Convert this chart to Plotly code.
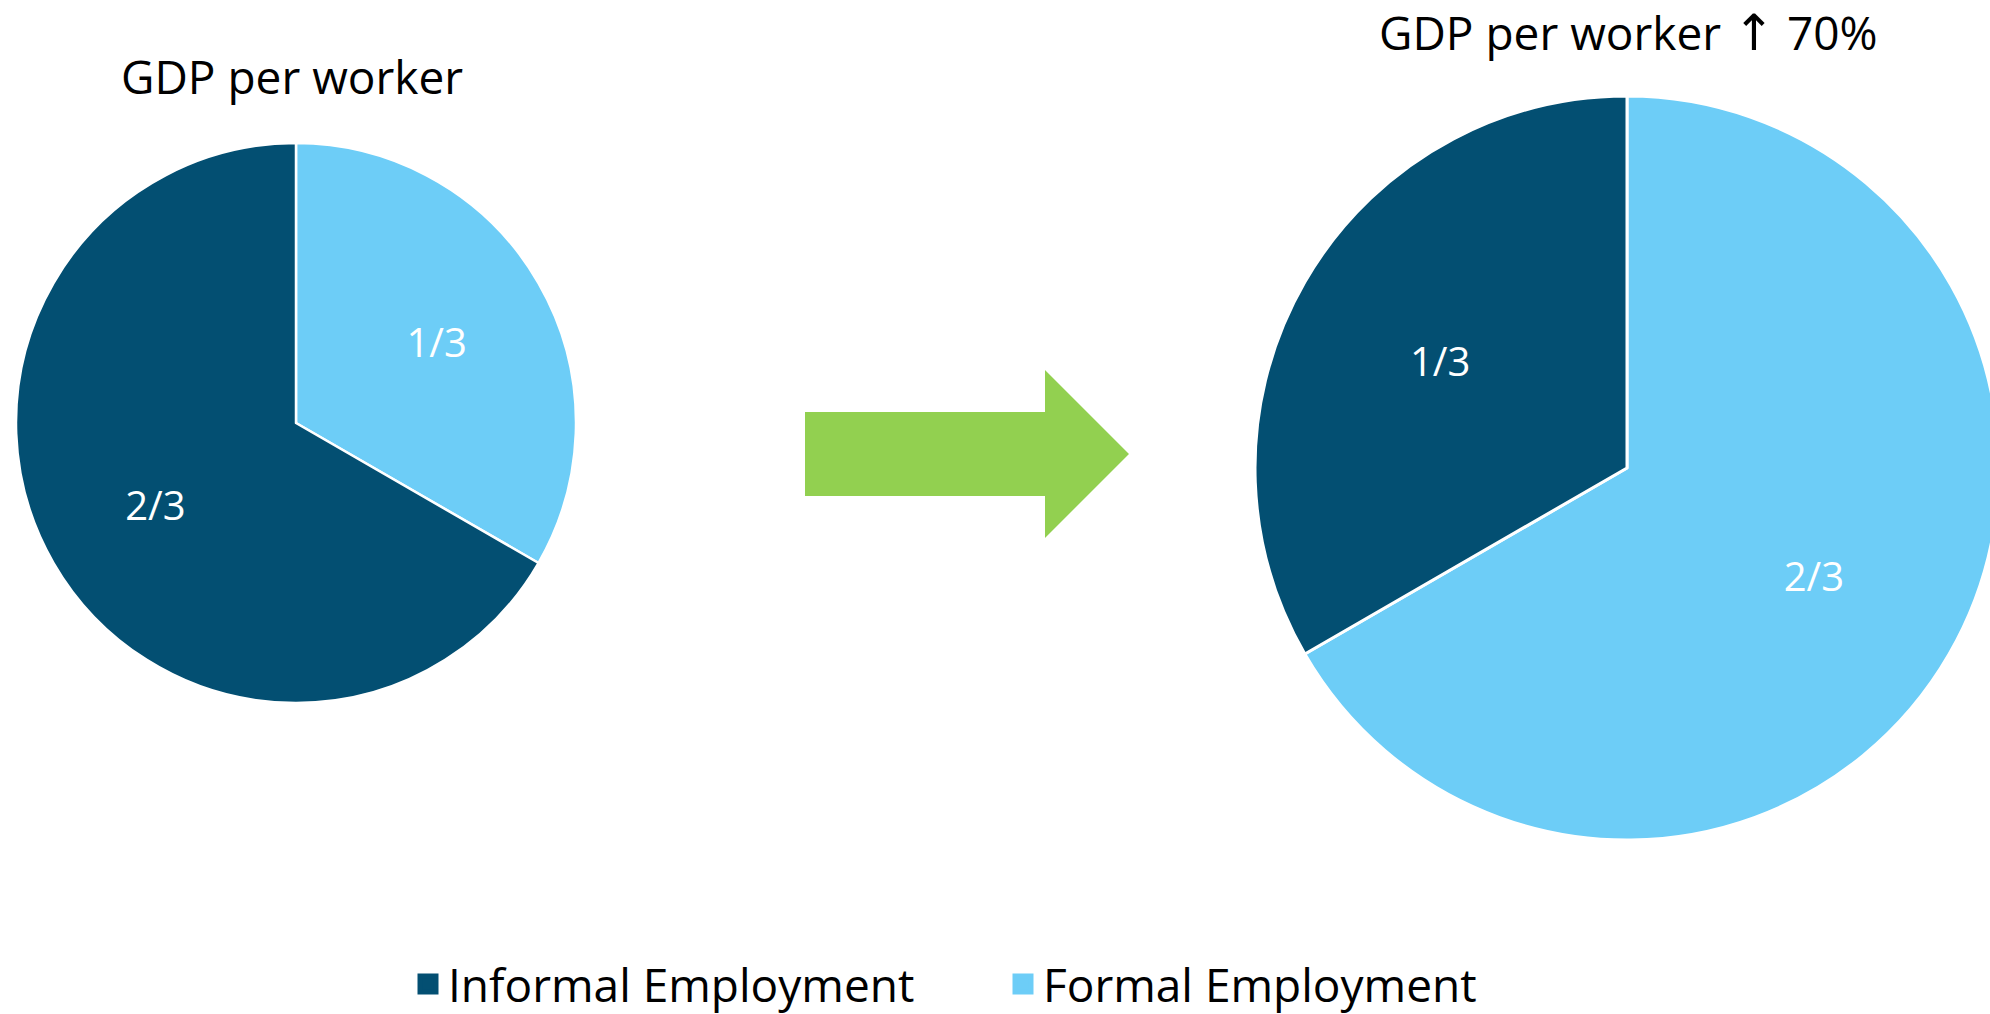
import plotly.graph_objects as go

# ---- data ----
categories = ["Informal Employment", "Formal Employment"]
before_shares = [2, 1]          # thirds of employment
after_shares = [1, 2]
before_labels = ["2/3", "1/3"]
after_labels = ["1/3", "2/3"]
title_before = "GDP per worker"
title_after = "GDP per worker <span style='font-family:DejaVu Sans;font-size:50px'>\u2191</span> 70%"

colors = {"Informal Employment": "#034F72", "Formal Employment": "#6DCDF7"}
W, H = 2010, 1014      # figure slightly wider than the window so the right pie is clipped
FONT = "Open Sans"

def px_x(x):
    return x / W

def px_y(y):
    return 1 - y / H

pies = [
    dict(values=before_shares, text=before_labels, x=(16, 576), y=(143, 703), lw=2.5),
    dict(values=after_shares, text=after_labels, x=(1255, 1999), y=(96, 840), lw=3),
]

fig = go.Figure()
for p in pies:
    dom = dict(x=[px_x(p["x"][0]), px_x(p["x"][1])], y=[px_y(p["y"][1]), px_y(p["y"][0])])
    labs = categories[::-1]
    vals = p["values"][::-1]
    txt = p["text"][::-1]
    # coloured slices
    fig.add_trace(go.Pie(
        labels=labs, values=vals, textinfo="none",
        sort=False, direction="clockwise", rotation=0,
        marker=dict(colors=[colors[c] for c in labs], line=dict(color="white", width=p["lw"])),
        domain=dom, showlegend=False, hoverinfo="label+value",
    ))
    # transparent overlay carrying the slice labels (ring pushes labels outward)
    fig.add_trace(go.Pie(
        labels=labs, values=vals, text=txt, hole=0.16,
        textinfo="text", textposition="inside", insidetextorientation="horizontal",
        sort=False, direction="clockwise", rotation=0,
        marker=dict(colors=["rgba(0,0,0,0)"] * len(labs), line=dict(width=0)),
        textfont=dict(family=FONT, size=40, color="white"),
        domain=dom, showlegend=False, hoverinfo="skip",
    ))

# legend entries
for c in categories:
    fig.add_trace(go.Scatter(
        x=[None], y=[None], mode="markers", name=c,
        marker=dict(symbol="square", size=16, color=colors[c], line=dict(color=colors[c], width=5)),
        showlegend=True, hoverinfo="skip",
    ))

fig.add_annotation(x=px_x(292), y=px_y(76), xref="paper", yref="paper",
                   text=title_before, showarrow=False,
                   font=dict(family=FONT, size=46, color="black"),
                   xanchor="center", yanchor="middle")
fig.add_annotation(x=px_x(1628), y=px_y(32), xref="paper", yref="paper",
                   text=title_after, showarrow=False,
                   font=dict(family=FONT, size=46, color="black"),
                   xanchor="center", yanchor="middle")

# green arrow between the pies
arrow_px = [(805, 412), (1045, 412), (1045, 370), (1129, 454), (1045, 538), (1045, 496), (805, 496)]
path = "M " + " L ".join(f"{px_x(x):.5f},{px_y(y):.5f}" for x, y in arrow_px) + " Z"
fig.add_shape(type="path", path=path, xref="paper", yref="paper",
              fillcolor="#92D050", line=dict(width=0), layer="above")

fig.update_layout(
    width=W, height=H,
    margin=dict(l=0, r=0, t=0, b=0, autoexpand=False),
    paper_bgcolor="white", plot_bgcolor="white",
    xaxis=dict(visible=False), yaxis=dict(visible=False),
    showlegend=True,
    legend=dict(orientation="h", x=408 / W, xanchor="left", xref="container",
                y=1 - 984 / H, yanchor="middle", yref="container",
                font=dict(family=FONT, size=46, color="black"), itemsizing="trace",
                entrywidth=550, entrywidthmode="pixels", bgcolor="rgba(0,0,0,0)"),
)

fig.write_html(
    "out.html",
    config={"displayModeBar": False},
    post_script="document.body.style.margin='0';document.body.style.overflow='hidden';"
                "document.documentElement.style.overflow='hidden';",
)
